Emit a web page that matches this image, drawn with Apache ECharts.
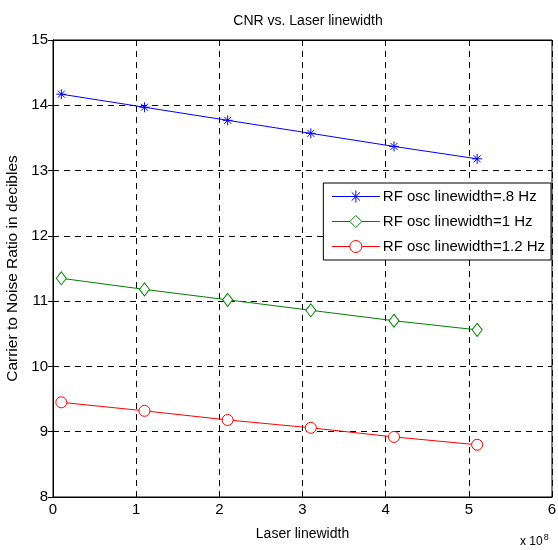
<!DOCTYPE html>
<html>
<head>
<meta charset="utf-8">
<script src="https://cdn.jsdelivr.net/npm/echarts@6/dist/echarts.min.js"></script>
<style>
  html, body { margin: 0; padding: 0; background: #fff; }
  #chart { width: 558px; height: 550px; }
</style>
</head>
<body>
<div id="chart"></div>
<script>
// laser linewidth, in units of 1e8
var xValues = [0.1, 1.1, 2.1, 3.1, 4.1, 5.1];
var cnrOsc08 = [14.17, 13.97, 13.77, 13.57, 13.37, 13.18];
var cnrOsc10 = [11.35, 11.18, 11.02, 10.86, 10.70, 10.56];
var cnrOsc12 = [9.45, 9.32, 9.18, 9.06, 8.92, 8.80];
var seriesNames = ["RF osc linewidth=.8 Hz", "RF osc linewidth=1 Hz", "RF osc linewidth=1.2 Hz"];

var font = "'Liberation Sans', Arial, sans-serif";
var asterisk = "path://M5,0L5,10M0,5L10,5M1.5,1.5L8.5,8.5M1.5,8.5L8.5,1.5";

function pairs(ys) {
  var out = [];
  for (var i = 0; i < xValues.length; i++) {
    out.push([xValues[i], ys[i]]);
  }
  return out;
}

function makeSeries(name, ys, color, symbol, size) {
  return {
    name: name,
    type: "line",
    data: pairs(ys),
    symbol: symbol,
    symbolSize: size,
    showAllSymbol: true,
    lineStyle: { color: color, width: 1 },
    itemStyle: { color: "#fff", borderColor: color, borderWidth: 1 },
    emphasis: { disabled: true },
    z: 5
  };
}

var myChart = echarts.init(document.getElementById("chart"));

var dashed = { show: true, lineStyle: { color: "#000", type: [6, 5], width: 1 } };

var option = {
  animation: false,
  backgroundColor: "#fff",
  textStyle: { fontFamily: font },
  title: {
    text: "CNR vs. Laser linewidth",
    left: 303,
    top: 9,
    textAlign: "center",
    textStyle: { fontSize: 14, fontWeight: "normal", color: "#000", fontFamily: font }
  },
  grid: {
    left: 53, right: 6, top: 40, bottom: 53,
    show: true, borderColor: "#000", borderWidth: 1,
    containLabel: false,
    outerBoundsMode: "none"
  },
  legend: {
    orient: "vertical",
    right: 7,
    top: 183,
    padding: [6, 6, 6, 8],
    itemWidth: 48,
    itemHeight: 15,
    itemGap: 10,
    backgroundColor: "#fff",
    borderColor: "#000",
    borderWidth: 1,
    borderRadius: 0,
    selectedMode: false,
    lineStyle: { width: 1 },
    itemStyle: { borderWidth: 1 },
    textStyle: { fontSize: 15, color: "#000", fontFamily: font, padding: [0, 0, 0, -2] },
    data: seriesNames
  },
  xAxis: [{
    type: "value",
    min: 0, max: 6, interval: 1,
    name: "Laser linewidth",
    nameLocation: "middle",
    nameGap: 30,
    nameTextStyle: { fontSize: 14, color: "#000" },
    axisLine: { show: true, onZero: false, lineStyle: { color: "#000" } },
    axisTick: { show: true, inside: true, length: 5, lineStyle: { color: "#000" } },
    axisLabel: { fontSize: 15, color: "#000", margin: 5 },
    splitLine: dashed
  }, {
    type: "value",
    position: "top",
    min: 0, max: 6, interval: 1,
    axisLine: { show: true, lineStyle: { color: "#000" } },
    axisTick: { show: true, inside: true, length: 5, lineStyle: { color: "#000" } },
    axisLabel: { show: false },
    splitLine: { show: false }
  }],
  yAxis: [{
    type: "value",
    min: 8, max: 15, interval: 1,
    name: "Carrier to Noise Ratio in decibles",
    nameLocation: "middle",
    nameGap: 28,
    nameTextStyle: { fontSize: 15.5, color: "#000" },
    axisLine: { show: true, onZero: false, lineStyle: { color: "#000" } },
    axisTick: { show: true, inside: true, length: 5, lineStyle: { color: "#000" } },
    axisLabel: { fontSize: 15, color: "#000", margin: 5 },
    splitLine: dashed
  }, {
    type: "value",
    position: "right",
    min: 8, max: 15, interval: 1,
    axisLine: { show: true, lineStyle: { color: "#000" } },
    axisTick: { show: true, inside: true, length: 5, lineStyle: { color: "#000" } },
    axisLabel: { show: false },
    splitLine: { show: false }
  }],
  graphic: [{
    type: "text",
    left: 520,
    top: 533,
    style: {
      rich: {
        a: { fontSize: 12, fontFamily: font, fill: "#000" },
        s: { fontSize: 9, fontFamily: font, fill: "#000", verticalAlign: "top", padding: [0, 0, 8, 1] }
      },
      text: "{a|x 10}{s|8}"
    }
  }],
  series: [
    makeSeries(seriesNames[0], cnrOsc08, "#0000ff", asterisk, 10),
    makeSeries(seriesNames[1], cnrOsc10, "#008000", "diamond", [10, 13]),
    makeSeries(seriesNames[2], cnrOsc12, "#ff0000", "circle", 11)
  ]
};

myChart.setOption(option);
</script>
</body>
</html>
